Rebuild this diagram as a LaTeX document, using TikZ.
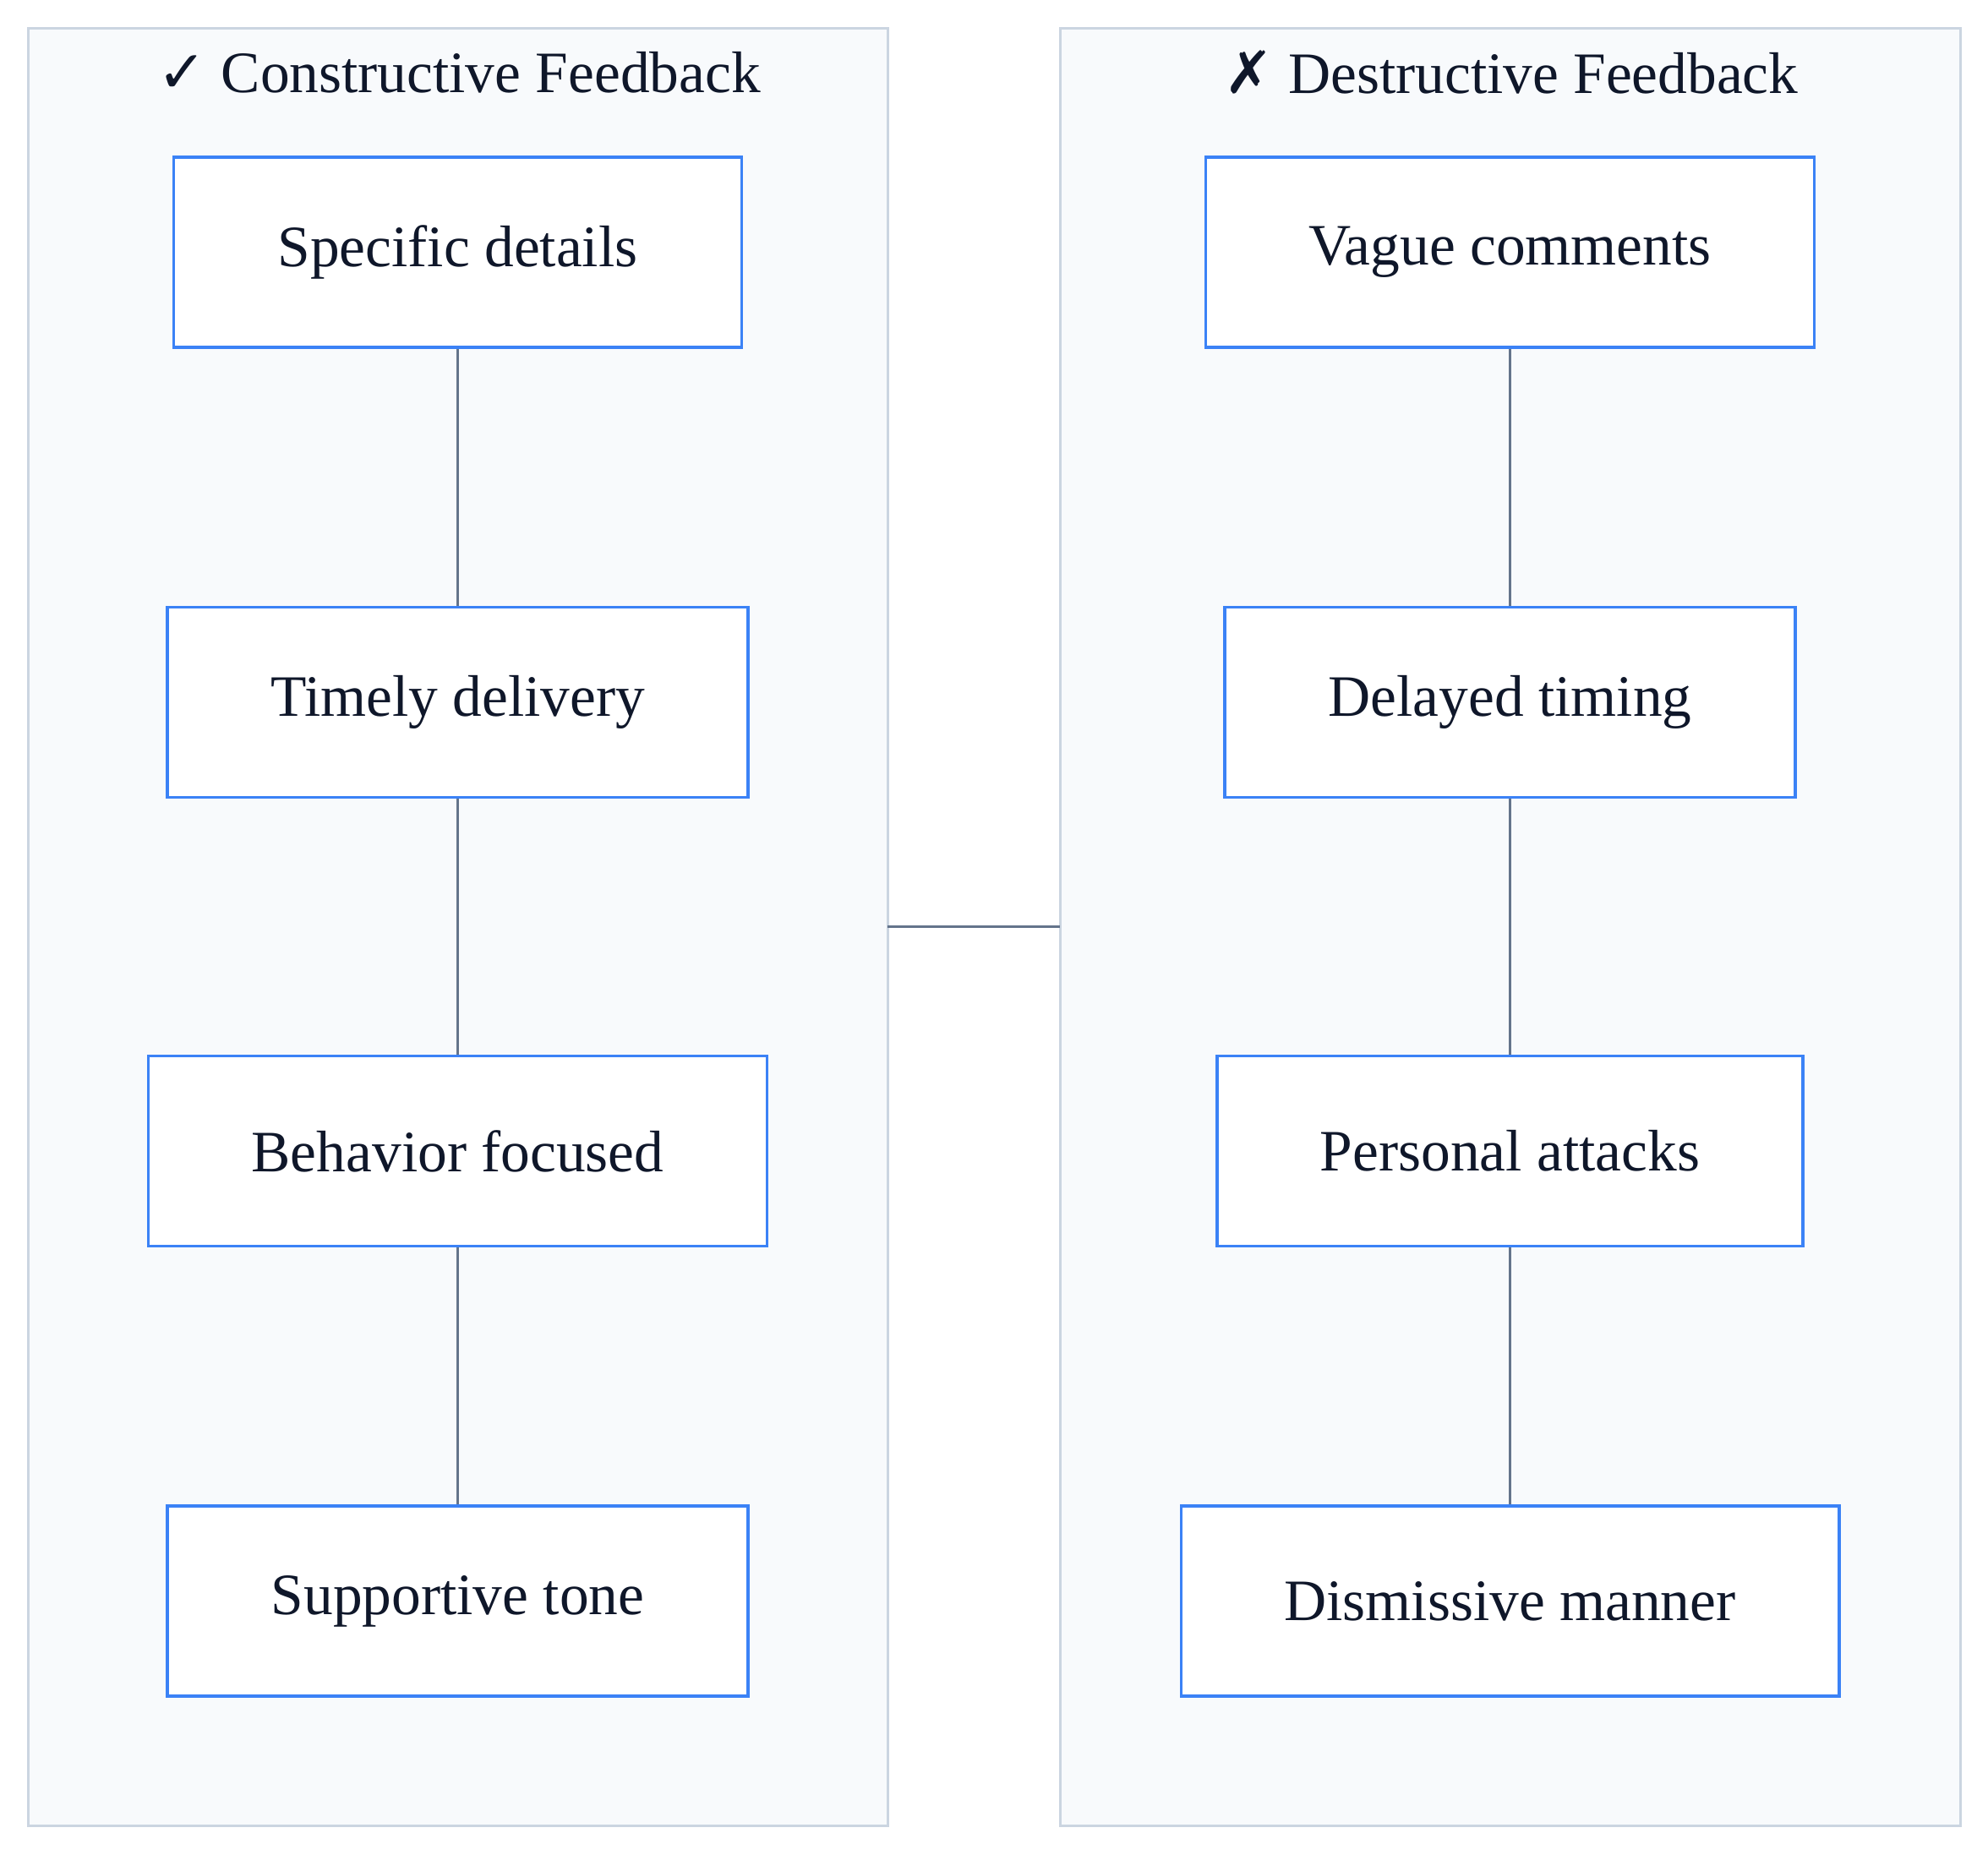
\documentclass[tikz,border=0pt]{standalone}
\usepackage{fontspec}
\setmainfont{Liberation Serif}
\newfontfamily\symfont{DejaVu Sans}
\usepackage{tikz}
\usetikzlibrary{positioning}
\definecolor{panelfill}{HTML}{F8FAFC}
\definecolor{paneldraw}{HTML}{CBD5E1}
\definecolor{boxdraw}{HTML}{3B82F6}
\definecolor{linkgray}{HTML}{64748B}
\definecolor{textdark}{HTML}{0F172A}

\begin{document}
\begin{tikzpicture}[x=0.3mm, y=-0.3mm,
	panel/.style={draw=paneldraw, fill=panelfill, line width=0.6mm},
	item/.style={draw=boxdraw, fill=white, line width=0.7mm, minimum height=45mm, align=center, text=textdark, font=\fontsize{39.5}{46}\selectfont},
	title/.style={text=textdark, font=\fontsize{39.5}{46}\selectfont},
	link/.style={draw=linkgray, line width=0.6mm}]
	\useasboundingbox (0, 0) rectangle (1568, 1463);
	\draw[panel] (22, 22) rectangle (700, 1440);
	\draw[panel] (836, 22) rectangle (1546, 1440);
	\coordinate (leftedge) at (700, 731);
	\coordinate (rightedge) at (836, 731);

	\node[title] at (362, 57) (ctitle) {{\symfont ✓} Constructive Feedback};
	\node[title] at (1192, 57) (dtitle) {{\symfont ✗} Destructive Feedback};

	\node[item, minimum width=134.4mm] at (361, 199) (c1) {Specific details};
	\node[item, minimum width=137.4mm] at (361, 554) (c2) {Timely delivery};
	\node[item, minimum width=146.4mm] at (361, 908) (c3) {Behavior focused};
	\node[item, minimum width=137.4mm] at (361, 1263) (c4) {Supportive tone};

	\node[item, minimum width=144mm] at (1191, 199) (d1) {Vague comments};
	\node[item, minimum width=135mm] at (1191, 554) (d2) {Delayed timing};
	\node[item, minimum width=138.6mm] at (1191, 908) (d3) {Personal attacks};
	\node[item, minimum width=155.7mm] at (1191, 1263) (d4) {Dismissive manner};

	\path[link] (c1) -- (c2) (c2) -- (c3) (c3) -- (c4);
	\path[link] (d1) -- (d2) (d2) -- (d3) (d3) -- (d4);
	\draw[link] (leftedge) -- (rightedge);
\end{tikzpicture}
\end{document}
